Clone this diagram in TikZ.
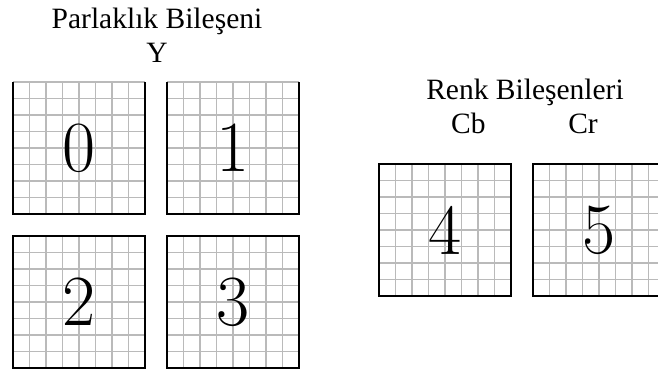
\documentclass[tikz,border=0pt]{standalone}
\usepackage{fontspec}
\setmainfont{Liberation Serif}
\newfontfamily\digitfont{Latin Modern Roman}
\begin{document}
\begin{tikzpicture}[x=1pt,y=-1pt,
  gridline/.style={draw=black!27, line width=1.3pt},
  border/.style={draw=black, line width=2pt},
  digit/.style={font=\digitfont\fontsize{72}{72}\selectfont, inner sep=0pt, minimum size=132pt},
  label/.style={font=\fontsize{29.5}{34}\selectfont, inner sep=0pt}]
\useasboundingbox (0,0) rectangle (658,372);
\clip (0,0) rectangle (658,372);
\fill[white] (0,0) rectangle (658,372);
\foreach \n/\x/\y in {0/13/82, 1/167/82, 2/13/236, 3/167/236, 4/379/164, 5/533/164} {
  \foreach \k in {0,...,8} {
    \draw[gridline] ({\x+\k*16.5},\y) -- ({\x+\k*16.5},{\y+132});
    \draw[gridline] (\x,{\y+\k*16.5}) -- ({\x+132},{\y+\k*16.5});
  }
  \node[digit] (b\n) at ({\x+66},{\y+66}) {\n};
}
\draw[border] (b0.north west) -- (b0.south west) -- (b0.south east) -- (b0.north east);
\draw[border] (b1.north west) -- (b1.south west) -- (b1.south east) -- (b1.north east);
\foreach \n in {2,3,4,5} {
  \draw[border] (b\n.north west) rectangle (b\n.south east);
}
\node[label, anchor=base] (lum) at (157,28) {Parlaklık Bileşeni};
\node[label, anchor=base] (lumy) at (157,62) {Y};
\node[label, anchor=base] (chroma) at (525,99) {Renk Bileşenleri};
\node[label, anchor=base west] (cb) at (451,133) {Cb};
\node[label, anchor=base east] (cr) at (598,133) {Cr};
\end{tikzpicture}
\end{document}
